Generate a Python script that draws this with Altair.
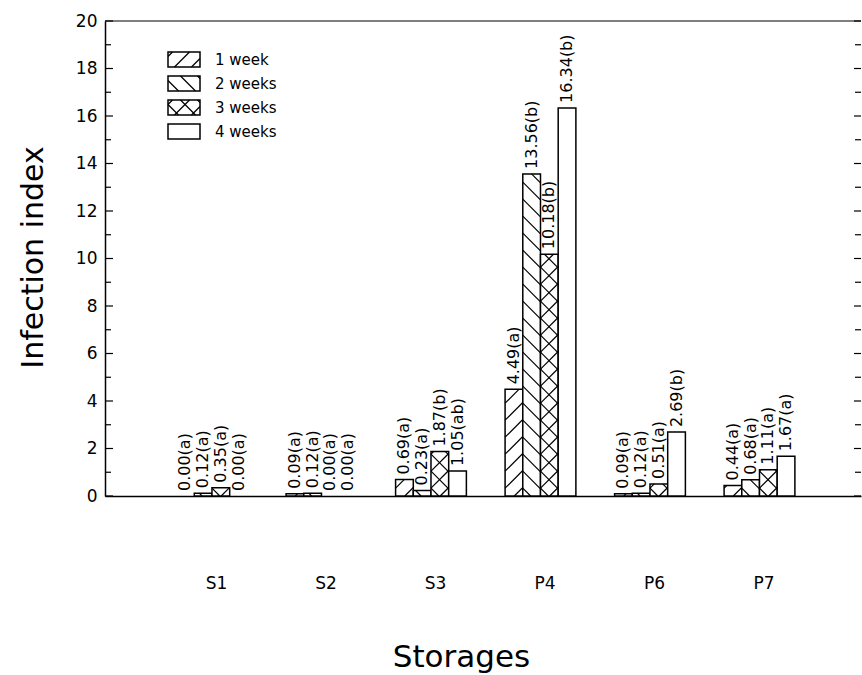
import json
import altair as alt
import pandas as pd

# ---------------- data ----------------
storages = ["S1", "S2", "S3", "P4", "P6", "P7"]
weeks = ["1 week", "2 weeks", "3 weeks", "4 weeks"]
week1 = [0.00, 0.09, 0.69, 4.49, 0.09, 0.44]
week2 = [0.12, 0.12, 0.23, 13.56, 0.12, 0.68]
week3 = [0.35, 0.00, 1.87, 10.18, 0.51, 1.11]
week4 = [0.00, 0.00, 1.05, 16.34, 2.69, 1.67]
letters1 = ["a", "a", "a", "a", "a", "a"]
letters2 = ["a", "a", "a", "b", "a", "a"]
letters3 = ["a", "a", "b", "b", "a", "a"]
letters4 = ["a", "a", "ab", "b", "b", "a"]
hatches = ["/", "\\", "x", ""]
y_major = [0, 2, 4, 6, 8, 10, 12, 14, 16, 18, 20]
y_minor = [1, 3, 5, 7, 9, 11, 13, 15, 17, 19]

# ---------------- layout ----------------
W, H = 756, 475
XD = [-0.977, 5.927]
YD = [0, 20]
KX = W / (XD[1] - XD[0])
KY = H / (YD[1] - YD[0])
BAR_W = 17.7 / KX
SPACING = 17.0
FONT = "DejaVu Sans"


def px_x(u):
    return XD[0] + u / KX


def px_y(v):  # v measured from top of the plot
    return YD[1] - v / KY


def hatch(x0, x1, y0, y1, kind):
    segs = []
    wpx = (x1 - x0) * KX
    hpx = (y1 - y0) * KY
    if hpx <= 0:
        return segs
    kinds = []
    if kind in ("/", "x"):
        kinds.append("/")
    if kind in ("\\", "x"):
        kinds.append("\\")
    for k in kinds:
        c = -wpx + SPACING / 2
        while c < hpx + wpx:
            if k == "/":  # v = u + c
                ua, ub = max(0.0, -c), min(wpx, hpx - c)
                if ub > ua:
                    segs.append(dict(x=x0 + ua / KX, x2=x0 + ub / KX,
                                     y=y0 + (ua + c) / KY, y2=y0 + (ub + c) / KY))
            else:  # v = -u + c
                ua, ub = max(0.0, c - hpx), min(wpx, c)
                if ub > ua:
                    segs.append(dict(x=x0 + ua / KX, x2=x0 + ub / KX,
                                     y=y0 + (c - ua) / KY, y2=y0 + (c - ub) / KY))
            c += SPACING
    return segs


values = [week1, week2, week3, week4]
letters = [letters1, letters2, letters3, letters4]
bars, labels, bar_lines = [], [], []
for i, s in enumerate(storages):
    for k in range(4):
        v = values[k][i]
        xc = i + (k - 1.5) * BAR_W
        x0, x1 = xc - BAR_W / 2, xc + BAR_W / 2
        labels.append(dict(x=xc, y=v, t=f"{v:.2f}({letters[k][i]})"))
        if v > 0:
            bars.append(dict(x=x0, x2=x1, y=0, y2=v))
            bar_lines += hatch(x0, x1, 0, v, hatches[k])

# legend (pixel offsets inside plot area converted through the scales)
leg_boxes, leg_text, leg_lines = [], [], []
for k, name in enumerate(weeks):
    top = 31 + 24 * k
    bx0, bx1 = px_x(63), px_x(95)
    by1, by0 = px_y(top), px_y(top + 15)
    leg_boxes.append(dict(x=bx0, x2=bx1, y=by0, y2=by1))
    leg_lines += hatch(bx0, bx1, by0, by1, hatches[k])
    leg_text.append(dict(x=px_x(110), y=px_y(top + 7.5), t=name))

ticks = []
for t in y_major:
    ticks.append(dict(x=XD[0], x2=px_x(8), y=t, y2=t))
    ticks.append(dict(x=px_x(W - 7), x2=XD[1], y=t, y2=t))
for t in y_minor:
    ticks.append(dict(x=XD[0], x2=px_x(6), y=t, y2=t))
    ticks.append(dict(x=px_x(W - 6), x2=XD[1], y=t, y2=t))
ticks.append(dict(x=XD[0], x2=XD[1], y=YD[1], y2=YD[1]))

xs = alt.Scale(domain=XD, nice=False, zero=False)
ys = alt.Scale(domain=YD, nice=False)
lab_expr = json.dumps(storages) + "[datum.value]"

xax = alt.Axis(values=list(range(len(storages))), labelExpr=lab_expr, ticks=False,
               grid=False, domain=True, domainColor="black", domainWidth=1.5,
               labelFont=FONT, labelFontSize=17, labelColor="black", labelPadding=79,
               labelOffset=4, title="Storages", titleFont=FONT, titleFontSize=31,
               titleFontWeight="normal", titleColor="black",
               titleX=356, titleY=170, titleAlign="center", titleBaseline="alphabetic")
yax = alt.Axis(values=y_major, ticks=False, grid=False, domain=True, domainColor="black",
               domainWidth=1.5, labelFont=FONT, labelFontSize=17, labelColor="black",
               labelPadding=8, title="Infection index", titleFont=FONT, titleFontSize=30,
               titleFontWeight="normal", titleColor="black",
               titleX=-63, titleY=236, titleAngle=270, titleAlign="center",
               titleBaseline="alphabetic")


def rules(df, sw):
    return alt.Chart(pd.DataFrame(df)).mark_rule(color="black", strokeWidth=sw).encode(
        x=alt.X("x:Q", scale=xs), x2="x2:Q", y=alt.Y("y:Q", scale=ys), y2="y2:Q")


bar_layer = alt.Chart(pd.DataFrame(bars)).mark_rect(
    fill="white", stroke="black", strokeWidth=1.5
).encode(
    x=alt.X("x:Q", scale=xs, axis=xax), x2="x2:Q",
    y=alt.Y("y:Q", scale=ys, axis=yax), y2="y2:Q",
)

legend_boxes = alt.Chart(pd.DataFrame(leg_boxes)).mark_rect(
    fill="white", stroke="black", strokeWidth=1.5
).encode(x=alt.X("x:Q", scale=xs), x2="x2:Q", y=alt.Y("y:Q", scale=ys), y2="y2:Q")

label_layer = alt.Chart(pd.DataFrame(labels)).mark_text(
    angle=270, align="left", baseline="middle", dx=5, font=FONT, fontSize=16, color="black"
).encode(x=alt.X("x:Q", scale=xs), y=alt.Y("y:Q", scale=ys), text="t:N")

legend_text = alt.Chart(pd.DataFrame(leg_text)).mark_text(
    align="left", baseline="middle", font=FONT, fontSize=15, color="black"
).encode(x=alt.X("x:Q", scale=xs), y=alt.Y("y:Q", scale=ys), text="t:N")

chart = alt.layer(
    bar_layer, rules(bar_lines, 1.2), rules(ticks, 1.2), label_layer,
    legend_boxes, rules(leg_lines, 1.2), legend_text
).properties(
    width=W, height=H,
    autosize=alt.AutoSizeParams(type="none"),
    padding={"left": 105, "top": 21, "right": 1, "bottom": 179},
    background="white",
).configure_view(stroke=None)

chart.save("out.html", embed_options={"renderer": "svg", "actions": False})
